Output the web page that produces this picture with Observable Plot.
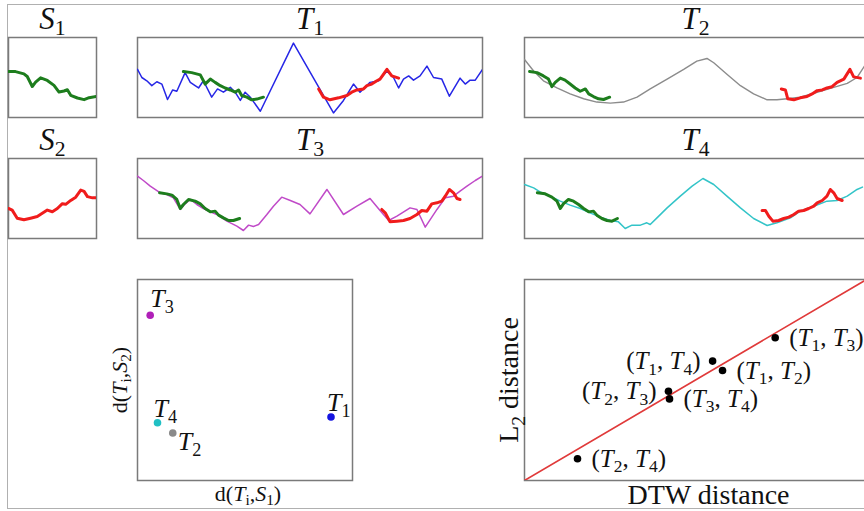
<!DOCTYPE html>
<html><head><meta charset="utf-8">
<script src="https://cdn.jsdelivr.net/npm/d3@7"></script>
<script src="https://cdn.jsdelivr.net/npm/@observablehq/plot@0.6"></script>
<style>
body{margin:0;background:#fff}
#fig{position:relative;width:864px;height:511px;overflow:hidden;background:#fff}
#fig > svg{position:absolute}
#outer{position:absolute;left:7px;top:4px;width:900px;height:503px;border-top:1.5px solid #b0b0b0;border-left:1.5px solid #b0b0b0;border-bottom:1.5px solid #b0b0b0}
</style></head><body><div id="fig"><div id="outer"></div></div>
<script>
// ---------- data: [time index, value] ----------
const S1 = [[0,5.74],[8,5.74],[17.5,5.45],[21.3,5.12],[27,3.88],[30.8,4.42],[36.5,4.96],[44.1,4.63],[51.7,4.01],[57.4,3.18],[63.1,3.31],[66.9,3.47],[70.7,2.77],[78.3,2.44],[85.9,2.23],[91.6,2.48],[100,2.64]];
const S2 = [[0,3.75],[4.2,3.55],[9.9,2.54],[17.5,2.34],[25.1,2.54],[32.7,2.74],[38.4,3.15],[44.1,3.55],[49.8,3.35],[55.5,3.75],[61.2,4.35],[65,4.27],[70.7,4.76],[76.4,5.16],[82.1,6.05],[85.9,5.89],[89.7,5.24],[95.4,5.08],[100,5.08]];

const T1 = [[0,6.02],[1.26,5.0],[2.7,4.59],[4.15,3.98],[5.6,4.47],[7.05,4.18],[8.7,2.25],[10.2,3.44],[11.4,3.28],[13.8,5.61],[15.3,4.39],[16.7,3.98],[17.7,3.69],[19.1,4.59],[21.5,2.54],[23.2,3.57],[24.9,3.16],[26.9,3.77],[28.3,3.16],[29.8,2.13],[31.2,3.16],[32.7,2.54],[35.6,0.78],[45.2,9.3],[56.8,0.57],[59.7,2.13],[62.6,4.18],[64.5,3.16],[67.4,4.39],[69.9,4.59],[72.3,5.82],[74.2,5.0],[75.7,3.69],[77.1,4.8],[78.6,5.2],[80,4.67],[81.9,5.2],[83.9,6.43],[85.8,5.0],[88.2,4.8],[90.4,2.66],[93.5,4.92],[95,4.18],[96.4,4.67],[97.9,4.67],[100,6.02]];
const T1_S1 = [[13.3,5.74],[15.7,5.61],[18.2,5.33],[19.6,4.18],[21.1,4.8],[22.5,4.39],[24,3.98],[25.4,3.69],[26.9,3.44],[28.3,3.16],[29.3,3.44],[30.2,2.75],[31.7,2.54],[33.1,2.21],[34.6,2.3],[36.5,2.54]];
const T1_S2 = [[52.5,3.57],[53.9,2.54],[55.8,2.21],[58.3,2.46],[60.7,2.75],[62.1,3.16],[63.6,3.44],[65.5,3.57],[66.5,3.98],[67.9,4.18],[69.4,4.59],[70.3,4.8],[72.3,6.02],[73.7,5.2],[75.7,4.92]];

const T2 = [[0,7.25],[2.7,5.82],[5.6,4.59],[9.6,3.69],[13.5,2.95],[17.5,2.34],[21.4,1.93],[25.4,1.8],[29.3,1.93],[33.3,2.54],[37.2,3.57],[42.2,4.8],[47.1,6.02],[51,7.05],[54,7.38],[56,6.84],[59.9,5.41],[63.9,3.98],[67.8,2.95],[71.8,2.21],[74.7,2.21],[77.7,2.34],[81.6,2.54],[86.6,3.16],[91.5,3.77],[95.5,4.26],[98.4,5.0],[100.6,6.43]];
const T2_S1 = [[1.5,5.74],[3.7,5.61],[5.6,5.2],[7.1,4.8],[8.1,3.85],[9.1,4.39],[10.6,4.92],[12,4.67],[13.5,4.18],[15,3.69],[16.5,3.28],[18,3.57],[19,2.95],[20.4,2.62],[21.9,2.34],[23.4,2.25],[25.2,2.54]];
const T2_S2 = [[76,3.57],[77.2,3.44],[77.9,2.34],[79.7,2.21],[81.6,2.46],[83.6,2.62],[85.1,2.95],[86.6,3.36],[88.1,3.44],[89.5,3.69],[91,3.85],[92.5,4.39],[94.5,4.8],[96.3,6.02],[97.4,5.08],[99.4,4.92]];

const T3 = [[0,7.79],[1.7,7.25],[3.7,6.54],[5.1,6.13],[6.6,5.71],[8.5,5.5],[10.4,5.08],[12.4,3.63],[13.8,4.33],[15.3,4.88],[17.2,4.25],[19.1,3.75],[21.1,3.33],[23,3.0],[25.9,2.17],[28.8,1.54],[30.7,1.0],[32.2,1.67],[33.6,1.5],[35.1,1.75],[37.5,3.0],[39.4,4.04],[41.8,5.17],[44.3,4.75],[47.1,4.25],[50,3.08],[54.9,6.13],[59.7,3.0],[63.6,4.04],[67.4,5.0],[70.3,3.5],[72.8,2.25],[75.2,2.79],[79,3.83],[81,3.63],[83.4,1.42],[86.8,3.63],[89.2,5.08],[91.6,5.29],[93.5,5.92],[95.5,6.54],[97.9,7.25],[100,7.79]];
const T3_S1 = [[6.4,5.71],[8.5,5.58],[10,5.42],[11.4,4.88],[12.4,3.75],[13.3,4.25],[14.8,4.88],[16.7,4.67],[18.2,4.33],[19.6,3.75],[21.1,3.33],[22.5,3.42],[23.5,2.92],[24.9,2.58],[26.4,2.25],[27.8,2.25],[29.6,2.5]];
const T3_S2 = [[70.8,3.63],[71.8,3.21],[73.2,2.08],[75.2,2.17],[77.1,2.25],[79,2.5],[81,3.0],[82.4,3.5],[83.9,3.42],[85.3,4.33],[86.8,4.46],[88.2,4.67],[89.2,5.29],[90.4,6.13],[91.6,5.71],[92.6,5.0],[93.5,4.88]];

const T4 = [[0,6.75],[2.7,6.33],[4.6,5.83],[7.6,5.29],[10.6,4.67],[13.5,4.17],[16.5,3.75],[19.4,3.21],[22.4,2.67],[25.4,2.25],[27.8,2.08],[29.8,1.25],[31.8,1.67],[34.3,1.67],[36.2,1.96],[37.2,1.75],[39.2,2.58],[42.2,3.83],[46.1,5.29],[49.6,6.54],[52.8,7.5],[56,6.75],[59.9,5.29],[63.9,3.83],[67.8,2.5],[71.8,1.63],[74.7,1.96],[78.7,2.58],[81.6,3.42],[85.6,4.04],[89.5,4.67],[92.5,4.75],[95.5,5.29],[98.4,6.13],[100,6.42]];
const T4_S1 = [[3.8,5.71],[6.1,5.58],[8.1,5.17],[9.6,4.67],[10.6,3.75],[11.5,4.33],[13,4.88],[14.5,4.67],[16,4.25],[17.5,3.75],[19,3.33],[20.4,3.42],[21.4,2.92],[22.9,2.5],[24.4,2.25],[25.9,2.17],[27.5,2.5]];
const T4_S2 = [[70.3,3.5],[71.3,3.5],[72.3,2.79],[73.5,2.17],[75.2,2.25],[76.7,2.5],[78.2,2.67],[79.7,3.0],[81.1,3.42],[82.6,3.5],[84.1,3.75],[85.6,4.04],[86.6,4.46],[88.1,4.75],[89.5,5.29],[90.5,6.13],[91.5,5.71],[92.5,5.0],[94,4.75]];

// scatter d(Ti,S1) vs d(Ti,S2)
const seriesNames = ["$T$_1","$T$_2","$T$_3","$T$_4"];
const dS1 = [0.90, 0.164, 0.059, 0.093];
const dS2 = [0.316, 0.236, 0.822, 0.287];
const seriesColors = ["#1515e0","#8a8a8a","#b020b8","#20c0c4"];

// DTW vs L2
const pairLabels = ["($T$_1, $T$_3)","($T$_1, $T$_4)","($T$_1, $T$_2)","($T$_2, $T$_3)","($T$_3, $T$_4)","($T$_2, $T$_4)"];
const dtwDist = [0.733, 0.550, 0.579, 0.421, 0.424, 0.155];
const l2Dist  = [0.710, 0.594, 0.547, 0.444, 0.406, 0.108];
const pairSide = ["right","left","right","left","right","right"];
const refLine = [0, 1];

// ---------- rendering ----------
const fig = document.getElementById("fig");
const NS = "http://www.w3.org/2000/svg";
function richify(svg){
  svg.querySelectorAll("text").forEach(t=>{
    const s = t.textContent;
    if(!/[$_]/.test(s)) return;
    const fs = parseFloat(getComputedStyle(t).fontSize) || 16;
    while(t.firstChild) t.removeChild(t.firstChild);
    const re = /\$([^$]+)\$|_(.)|([^$_]+)/g; let m, shifted=false;
    while((m = re.exec(s))){
      const sp = document.createElementNS(NS,"tspan");
      if(m[2] !== undefined){
        sp.textContent = m[2];
        sp.setAttribute("font-size",(0.7*fs).toFixed(1));
        sp.setAttribute("font-style","normal");
        if(!shifted){ sp.setAttribute("dy",(0.22*fs).toFixed(1)); shifted=true; }
      } else {
        sp.textContent = m[1] !== undefined ? m[1] : m[3];
        sp.setAttribute("font-style", m[1] !== undefined ? "italic" : "normal");
        if(shifted){ sp.setAttribute("dy",(-0.22*fs).toFixed(1)); shifted=false; }
      }
      t.appendChild(sp);
    }
  });
}
const baseStyle = {fontFamily:"'Liberation Serif', 'DejaVu Serif', serif", fontSize:"26px", background:"transparent", overflow:"visible", color:"#111"};
function panel(b, m, xdom, ydom, marks){
  const svg = Plot.plot({
    width: b.x1-b.x0+m.l+m.r, height: b.y1-b.y0+m.t+m.b,
    marginTop:m.t, marginBottom:m.b, marginLeft:m.l, marginRight:m.r,
    x:{domain:xdom, axis:null}, y:{domain:ydom, axis:null},
    style: baseStyle, marks
  });
  svg.style.left = (b.x0-m.l)+"px"; svg.style.top = (b.y0-m.t)+"px";
  fig.appendChild(svg); richify(svg);
}
const frameMark = () => Plot.frame({stroke:"#7a7a7a", strokeWidth:1.5});
const title = s => Plot.text([s], {frameAnchor:"top", lineAnchor:"bottom", dy:-9, fontSize:31, fill:"#111"});
const ln = (d, color, w) => Plot.line(d, {x:d=>d[0], y:d=>d[1], stroke:color, strokeWidth:w, clip:true, strokeLinejoin:"round", strokeLinecap:"round"});
const GREEN = "#1d7d1d", RED = "#f01c1c";
const topM = {t:37,b:2,l:2,r:2};

// S panels
panel({x0:8,y0:37,x1:96,y1:117}, topM, [0,100], [0,10], [frameMark(), ln(S1,GREEN,3), title("$S$_1")]);
panel({x0:8,y0:158,x1:96,y1:238}, topM, [0,100], [0,10], [frameMark(), ln(S2,RED,3), title("$S$_2")]);
// T panels
panel({x0:137,y0:37,x1:482,y1:117}, topM, [0,100], [0,10], [frameMark(), ln(T1,"#2626e6",1.5), ln(T1_S1,GREEN,3), ln(T1_S2,RED,3), title("$T$_1")]);
panel({x0:137,y0:158,x1:482,y1:238}, topM, [0,100], [0,10], [frameMark(), ln(T3,"#c04ac8",1.5), ln(T3_S1,GREEN,3), ln(T3_S2,RED,3), title("$T$_3")]);
panel({x0:524,y0:37,x1:866,y1:117}, topM, [0,101.2], [0,10], [frameMark(), ln(T2,"#8c8c8c",1.4), ln(T2_S1,GREEN,3), ln(T2_S2,RED,3), title("$T$_2")]);
panel({x0:524,y0:158,x1:866,y1:238}, topM, [0,101.2], [0,10], [frameMark(), ln(T4,"#33c4c8",1.5), ln(T4_S1,GREEN,3), ln(T4_S2,RED,3), title("$T$_4")]);

// scatter of distances
const labelOffset = [[-4,-6],[5,17],[0,-8],[-4,-6]];
const idx = seriesNames.map((_,i)=>i);
panel({x0:137,y0:279,x1:352,y1:480}, {t:5,b:30,l:40,r:5}, [0,1], [0,1], [
  frameMark(),
  Plot.dot(idx, {x:i=>dS1[i], y:i=>dS2[i], fill:i=>seriesColors[i], r:3.8}),
  ...idx.map(i => Plot.text([i], {x:i=>dS1[i], y:i=>dS2[i], text:i=>seriesNames[i], textAnchor:"start", lineAnchor:"bottom", dx:labelOffset[i][0], dy:labelOffset[i][1], fontSize:26, fill:"#111"})),
  Plot.text(["d($T$_i,$S$_1)"], {frameAnchor:"bottom", lineAnchor:"bottom", dy:20, dx:3, fontSize:22, fill:"#111"}),
  Plot.text(["d($T$_i,$S$_2)"], {frameAnchor:"left", rotate:-90, textAnchor:"middle", lineAnchor:"middle", dx:-18, fontSize:22, fill:"#111"})
]);

// DTW vs L2
const pidx = pairLabels.map((_,i)=>i);
const right = pidx.filter(i=>pairSide[i]==="right"), left = pidx.filter(i=>pairSide[i]==="left");
panel({x0:524,y0:279,x1:866,y1:480}, {t:5,b:30,l:40,r:2}, [0,1], [0,1], [
  frameMark(),
  Plot.line(refLine, {x:d=>d, y:d=>d, stroke:"#e03a3a", strokeWidth:1.6, clip:true}),
  Plot.dot(pidx, {x:i=>dtwDist[i], y:i=>l2Dist[i], fill:"#000", r:3.8}),
  Plot.text(right, {x:i=>dtwDist[i], y:i=>l2Dist[i], text:i=>pairLabels[i], textAnchor:"start", lineAnchor:"middle", dx:14, fontSize:25, fill:"#111"}),
  Plot.text(left, {x:i=>dtwDist[i], y:i=>l2Dist[i], text:i=>pairLabels[i], textAnchor:"end", lineAnchor:"middle", dx:-12, fontSize:25, fill:"#111"}),
  Plot.text(["DTW distance"], {frameAnchor:"bottom", lineAnchor:"bottom", dy:23, dx:13, fontSize:28, fill:"#111"}),
  Plot.text(["L_2 distance"], {frameAnchor:"left", rotate:-90, textAnchor:"middle", lineAnchor:"middle", dx:-15, fontSize:28, fill:"#111"})
]);
</script>
</body></html>
